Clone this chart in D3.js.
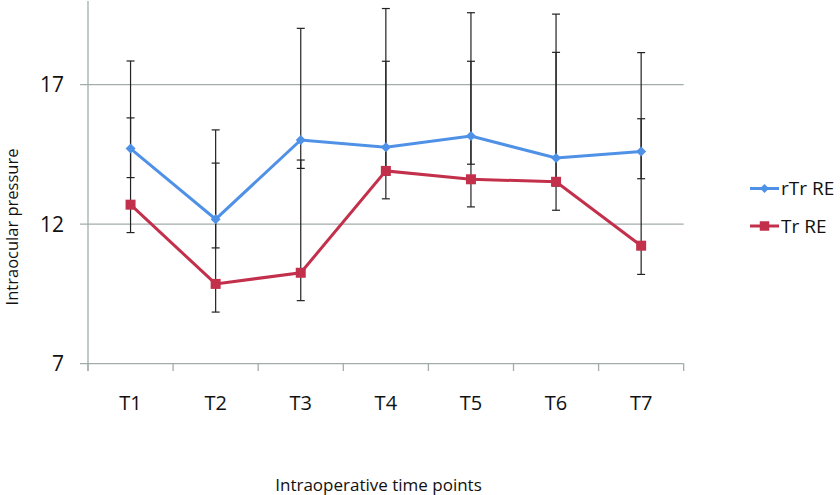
<!DOCTYPE html>
<html><head><meta charset="utf-8">
<script src="https://cdn.jsdelivr.net/npm/d3@7"></script>
<style>body{margin:0;background:#fff}svg{display:block}text{font-family:"Open Sans",sans-serif;fill:#111}</style>
</head><body><svg id="c" width="840" height="495"></svg>
<script>
const categories = ["T1","T2","T3","T4","T5","T6","T7"];
const rTrMean = [14.71, 12.18, 15.02, 14.76, 15.16, 14.37, 14.61];
const rTrLow  = [13.67, 11.15, 14.00, 13.76, 14.15, 13.37, 13.63];
const rTrHigh = [17.85, 15.38, 19.02, 19.73, 19.58, 19.53, 18.15];
const trMean  = [12.70, 9.86, 10.26, 13.91, 13.61, 13.52, 11.23];
const trLow   = [11.70, 8.85, 9.26, 12.91, 12.62, 12.50, 10.20];
const trHigh  = [15.81, 14.19, 14.30, 17.84, 17.84, 18.16, 15.78];
const yTicks = [7, 12, 17];
const seriesNames = ["rTr RE", "Tr RE"];

const svg = d3.select("#c");
const x = d3.scaleBand().domain(categories).range([88, 683.7]);
const y = d3.scaleLinear().domain([7, 20]).range([363.7, 1]);
const grid = "#a3adab";

svg.append("g").selectAll("line").data(yTicks).join("line")
  .attr("x1", 80).attr("x2", 683.7)
  .attr("y1", d => y(d)).attr("y2", d => y(d))
  .attr("stroke", grid).attr("stroke-width", 1.3);
svg.append("line").attr("x1", 88).attr("x2", 88).attr("y1", y(20)).attr("y2", 371)
  .attr("stroke", grid).attr("stroke-width", 1.3);
const xb = [...categories.map(c => x(c)), x.range()[1]];
svg.append("g").selectAll("line").data(xb).join("line")
  .attr("x1", d => d).attr("x2", d => d).attr("y1", y(7)).attr("y2", 371)
  .attr("stroke", grid).attr("stroke-width", 1.3);
svg.append("g").selectAll("text").data(yTicks).join("text")
  .attr("x", 64).attr("y", d => y(d)).attr("dy", "0.36em")
  .attr("text-anchor", "end").attr("font-size", 21).text(d => d);
svg.append("g").selectAll("text").data(categories).join("text")
  .attr("x", d => x(d) + x.bandwidth()/2).attr("y", 410)
  .attr("text-anchor", "middle").attr("font-size", 20).text(d => d);
svg.append("text").attr("transform", "translate(18,227) rotate(-90)")
  .attr("text-anchor", "middle").attr("font-size", 16.5).text("Intraocular pressure");
svg.append("text").attr("x", 378.5).attr("y", 491)
  .attr("text-anchor", "middle").attr("font-size", 17).text("Intraoperative time points");

const series = [
  {name: seriesNames[0], mean: rTrMean, lo: rTrLow, hi: rTrHigh, color: "#4f91e6", shape: "diamond"},
  {name: seriesNames[1], mean: trMean, lo: trLow, hi: trHigh, color: "#c3304b", shape: "square"}
];
const cx = c => x(c) + x.bandwidth()/2;

series.forEach(s => {
  const g = svg.append("g").attr("stroke", "#222").attr("stroke-width", 1.2);
  categories.forEach((c, i) => {
    g.append("line").attr("x1", cx(c)).attr("x2", cx(c)).attr("y1", y(s.lo[i])).attr("y2", y(s.hi[i]));
    [s.lo[i], s.hi[i]].forEach(v => g.append("line")
      .attr("x1", cx(c) - 4).attr("x2", cx(c) + 4).attr("y1", y(v)).attr("y2", y(v)));
  });
});

const line = d3.line().x((d, i) => cx(categories[i])).y(d => y(d));
series.forEach(s => {
  svg.append("path").datum(s.mean).attr("d", line).attr("fill", "none")
    .attr("stroke", s.color).attr("stroke-width", 3);
  svg.append("g").selectAll("path").data(s.mean).join("path")
    .attr("d", d3.symbol().type(d3.symbolSquare).size(s.shape === "diamond" ? 50 : 100)())
    .attr("transform", (d, i) => `translate(${cx(categories[i])},${y(d)})` + (s.shape === "diamond" ? " rotate(45)" : ""))
    .attr("fill", s.color);
});

const leg = svg.append("g");
series.forEach((s, i) => {
  const ly = 188.5 + i * 37.5;
  leg.append("line").attr("x1", 750).attr("x2", 779).attr("y1", ly).attr("y2", ly)
    .attr("stroke", s.color).attr("stroke-width", 3);
  leg.append("path").attr("d", d3.symbol().type(d3.symbolSquare).size(s.shape === "diamond" ? 40 : 90)())
    .attr("transform", `translate(764.5,${ly})` + (s.shape === "diamond" ? " rotate(45)" : ""))
    .attr("fill", s.color);
  leg.append("text").attr("x", 781).attr("y", ly).attr("dy", "0.36em")
    .attr("font-size", 19).text(s.name);
});
</script></body></html>
